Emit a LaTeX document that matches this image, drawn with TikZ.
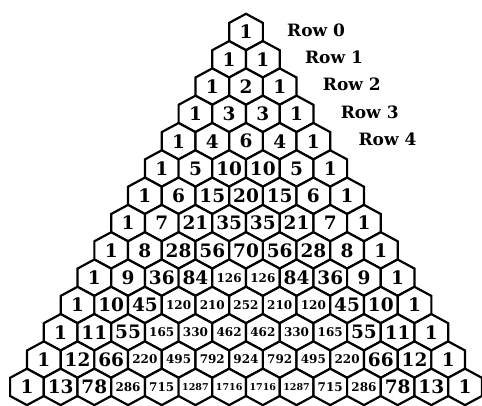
\documentclass[tikz,border=0pt]{standalone}
\usepackage{fontspec}
\setmainfont{DejaVu Serif}
\usetikzlibrary{calc}

% size of the number inside a cell, by its number of digits
\newcommand\cellnum[1]{%
  \ifnum#1>999 \fontsize{9.5}{9.5}\selectfont
  \else\ifnum#1>99 \fontsize{12}{12}\selectfont
  \else\fontsize{18.5}{18.5}\selectfont\fi\fi #1}

\begin{document}
\begin{tikzpicture}[
    x=1pt, y=-1pt,
    hexcell/.style  = {draw=black, line width=2.2pt, line join=miter, fill=white},
    num/.style      = {inner sep=0pt, font=\bfseries},
    rowlabel/.style = {anchor=west, inner sep=0pt,
                       font=\fontsize{17}{17}\selectfont\bfseries}
]
\useasboundingbox (0,0) rectangle (482,405);

% --- Cells, row by row (top to bottom) ---------------------------------------
\foreach \row [count=\r from 0] in {
    {1},
    {1,1},
    {1,2,1},
    {1,3,3,1},
    {1,4,6,4,1},
    {1,5,10,10,5,1},
    {1,6,15,20,15,6,1},
    {1,7,21,35,35,21,7,1},
    {1,8,28,56,70,56,28,8,1},
    {1,9,36,84,126,126,84,36,9,1},
    {1,10,45,120,210,252,210,120,45,10,1},
    {1,11,55,165,330,462,462,330,165,55,11,1},
    {1,12,66,220,495,792,924,792,495,220,66,12,1},
    {1,13,78,286,715,1287,1716,1716,1287,715,286,78,13,1}}{
  \foreach \v [count=\k from 0] in \row {
    \pgfmathsetmacro\cx{246+(\k-\r/2)*33.7}
    \pgfmathsetmacro\cy{32+\r*27.3}
    \draw[hexcell] (\cx,\cy) ++(0,-18.2) -- ++(16.85,9.1) -- ++(0,18.2)
          -- ++(-16.85,9.1) -- ++(-16.85,-9.1) -- ++(0,-18.2) -- cycle;
    \node[num] (c-\r-\k) at (\cx,\cy) {\cellnum{\v}};
  }
}

% --- Row labels (right of the last cell) -------------------------------------
\foreach \r in {0,...,4}
  \node[rowlabel] (row\r) at ($(c-\r-\r)+(41+\r,-2)$) {Row \r};

\end{tikzpicture}
\end{document}
